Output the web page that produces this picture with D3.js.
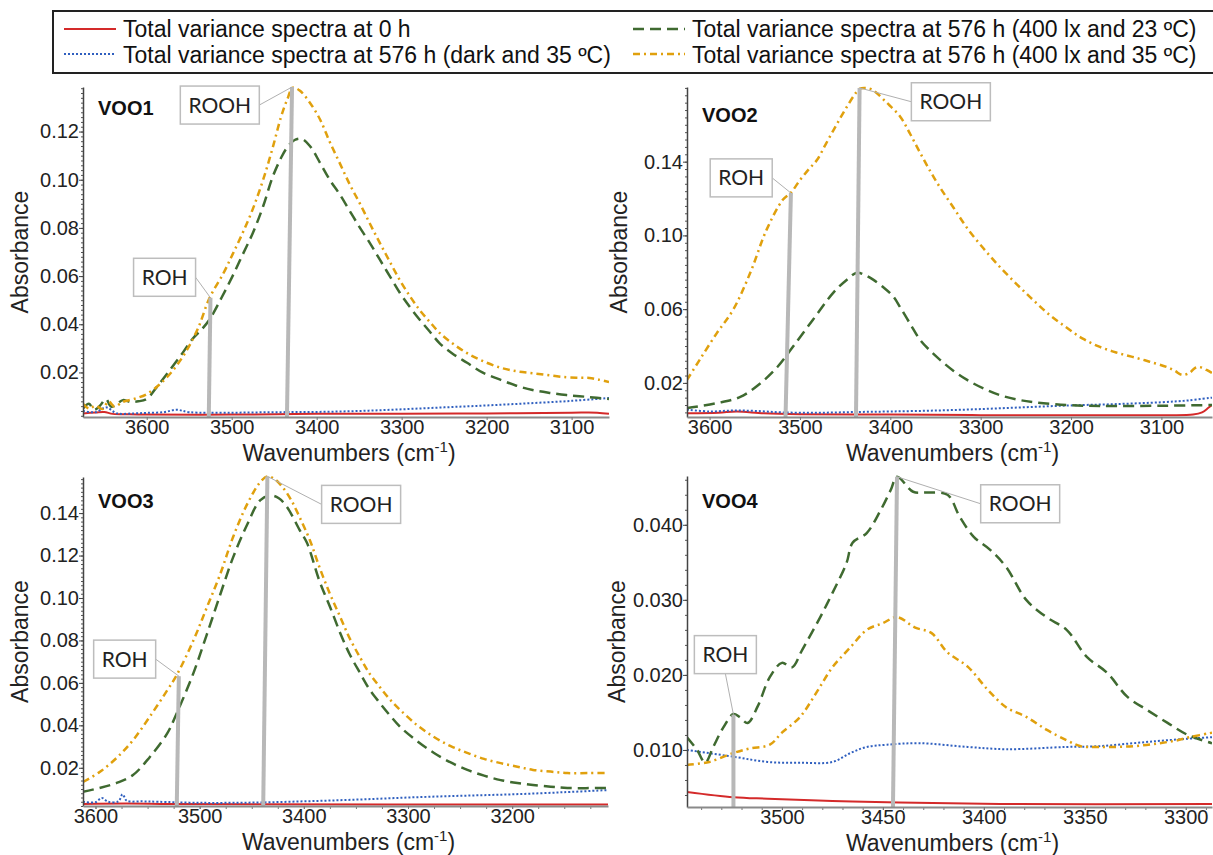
<!DOCTYPE html>
<html>
<head>
<meta charset="utf-8">
<script src="https://cdn.jsdelivr.net/npm/d3@7/dist/d3.min.js"></script>
<style>
  body { margin: 0; background: #fff; }
  text { font-family: "Liberation Sans", Arial, sans-serif; }
</style>
</head>
<body>
<svg id="chart" width="1213" height="855"></svg>
<script>
// legend labels, same order as the series in every panel
var legendLabels = [
    "Total variance spectra at 0 h",
    "Total variance spectra at 576 h (dark and 35 ºC)",
    "Total variance spectra at 576 h (400 lx and 23 ºC)",
    "Total variance spectra at 576 h (400 lx and 35 ºC)"
];

// ---- VOO1 : [wavenumber, absorbance]
var voo1_0h = [[3675,0.0030],[3660,0.0034],[3650,0.0036],[3640,0.0028],[3620,0.0026],[3600,0.0025],[3500,0.0025],[3400,0.0028],[3300,0.0028],[3200,0.0030],[3100,0.0033],[3070,0.0033],[3056,0.0028]];
var voo1_dark = [[3675,0.0040],[3660,0.0035],[3648,0.0055],[3635,0.0030],[3615,0.0030],[3600,0.0032],[3580,0.0035],[3565,0.0045],[3550,0.0035],[3500,0.0033],[3450,0.0035],[3400,0.0036],[3350,0.0040],[3300,0.0047],[3250,0.0055],[3200,0.0063],[3150,0.0072],[3100,0.0082],[3056,0.0094]];
var voo1_23 = [[3675,0.0050],[3668,0.0070],[3662,0.0045],[3655,0.0062],[3648,0.0090],[3642,0.0058],[3635,0.0070],[3628,0.0085],[3620,0.0078],[3610,0.0080],[3600,0.0090],[3588,0.0140],[3575,0.0200],[3560,0.0270],[3546,0.0340],[3535,0.0380],[3526,0.0420],[3512,0.0510],[3499,0.0600],[3487,0.0690],[3475,0.0780],[3463,0.0890],[3452,0.1010],[3442,0.1090],[3435,0.1133],[3426,0.1165],[3418,0.1170],[3408,0.1140],[3396,0.1070],[3384,0.0996],[3373,0.0940],[3361,0.0870],[3349,0.0800],[3337,0.0735],[3326,0.0670],[3314,0.0600],[3302,0.0530],[3290,0.0470],[3279,0.0420],[3267,0.0370],[3255,0.0320],[3240,0.0278],[3223,0.0240],[3205,0.0200],[3184,0.0170],[3165,0.0145],[3146,0.0127],[3126,0.0115],[3106,0.0106],[3080,0.0098],[3056,0.0090]];
var voo1_35 = [[3675,0.0070],[3668,0.0050],[3660,0.0062],[3652,0.0048],[3645,0.0080],[3638,0.0058],[3628,0.0078],[3615,0.0090],[3600,0.0110],[3585,0.0150],[3570,0.0205],[3555,0.0280],[3540,0.0380],[3526,0.0510],[3510,0.0610],[3499,0.0690],[3487,0.0780],[3475,0.0880],[3463,0.1000],[3452,0.1130],[3442,0.1260],[3435,0.1330],[3428,0.1382],[3420,0.1370],[3408,0.1320],[3396,0.1250],[3385,0.1160],[3373,0.1070],[3361,0.0980],[3349,0.0900],[3337,0.0815],[3326,0.0740],[3314,0.0660],[3302,0.0582],[3290,0.0515],[3279,0.0460],[3267,0.0410],[3255,0.0363],[3240,0.0320],[3223,0.0280],[3205,0.0248],[3184,0.0220],[3165,0.0205],[3146,0.0197],[3126,0.0188],[3106,0.0180],[3090,0.0178],[3079,0.0177],[3068,0.0170],[3056,0.0160]];

// ---- VOO2
var voo2_0h = [[3625,0.0035],[3590,0.0038],[3570,0.0045],[3540,0.0035],[3500,0.0030],[3400,0.0028],[3300,0.0025],[3200,0.0025],[3100,0.0025],[3065,0.0028],[3055,0.0040],[3048,0.0065],[3044,0.0080]];
var voo2_dark = [[3625,0.0055],[3600,0.0045],[3575,0.0050],[3550,0.0048],[3520,0.0040],[3480,0.0038],[3440,0.0042],[3400,0.0045],[3350,0.0050],[3300,0.0058],[3250,0.0068],[3200,0.0078],[3150,0.0085],[3100,0.0095],[3070,0.0105],[3044,0.0120]];
var voo2_23 = [[3625,0.0064],[3592,0.0090],[3566,0.0124],[3544,0.0197],[3525,0.0286],[3508,0.0395],[3486,0.0540],[3463,0.0690],[3448,0.0760],[3437,0.0797],[3428,0.0785],[3419,0.0760],[3408,0.0720],[3397,0.0670],[3389,0.0610],[3378,0.0520],[3367,0.0433],[3356,0.0375],[3345,0.0325],[3330,0.0265],[3315,0.0216],[3297,0.0170],[3279,0.0134],[3260,0.0110],[3242,0.0096],[3205,0.0080],[3168,0.0075],[3100,0.0076],[3044,0.0080]];
var voo2_35 = [[3625,0.0216],[3611,0.0325],[3592,0.0470],[3574,0.0596],[3555,0.0797],[3537,0.1030],[3519,0.1193],[3510,0.1232],[3500,0.1300],[3490,0.1360],[3481,0.1410],[3472,0.1490],[3463,0.1570],[3455,0.1640],[3448,0.1698],[3440,0.1760],[3434,0.1795],[3428,0.1800],[3420,0.1790],[3404,0.1720],[3389,0.1644],[3378,0.1550],[3367,0.1448],[3356,0.1350],[3345,0.1260],[3330,0.1150],[3315,0.1040],[3297,0.0930],[3279,0.0830],[3260,0.0735],[3242,0.0650],[3224,0.0570],[3205,0.0500],[3187,0.0440],[3168,0.0395],[3150,0.0365],[3132,0.0341],[3113,0.0315],[3094,0.0286],[3085,0.0265],[3077,0.0243],[3069,0.0254],[3063,0.0280],[3058,0.0286],[3050,0.0270],[3044,0.0254]];

// ---- VOO3
var voo3_0h = [[3612,0.0030],[3570,0.0032],[3530,0.0030],[3450,0.0028],[3300,0.0027],[3108,0.0027]];
var voo3_dark = [[3612,0.0040],[3600,0.0038],[3594,0.0058],[3588,0.0040],[3578,0.0042],[3574,0.0075],[3570,0.0045],[3555,0.0042],[3540,0.0040],[3500,0.0035],[3450,0.0036],[3400,0.0042],[3350,0.0050],[3300,0.0060],[3250,0.0068],[3200,0.0075],[3150,0.0085],[3108,0.0095]];
var voo3_23 = [[3612,0.0087],[3596,0.0105],[3579,0.0130],[3564,0.0166],[3548,0.0250],[3531,0.0363],[3522,0.0457],[3506,0.0646],[3493,0.0830],[3480,0.1020],[3468,0.1190],[3454,0.1350],[3442,0.1460],[3432,0.1483],[3424,0.1470],[3416,0.1427],[3404,0.1320],[3397,0.1260],[3385,0.1080],[3375,0.0960],[3365,0.0834],[3356,0.0735],[3346,0.0646],[3337,0.0570],[3327,0.0505],[3317,0.0445],[3307,0.0390],[3291,0.0325],[3275,0.0270],[3259,0.0225],[3243,0.0190],[3227,0.0163],[3211,0.0142],[3195,0.0128],[3180,0.0119],[3163,0.0111],[3147,0.0105],[3108,0.0105]];
var voo3_35 = [[3612,0.0133],[3596,0.0180],[3579,0.0250],[3564,0.0330],[3548,0.0440],[3531,0.0566],[3522,0.0637],[3506,0.0800],[3493,0.0957],[3480,0.1116],[3468,0.1286],[3454,0.1446],[3442,0.1545],[3435,0.1573],[3428,0.1560],[3420,0.1520],[3412,0.1460],[3404,0.1380],[3394,0.1270],[3385,0.1145],[3375,0.1020],[3365,0.0910],[3356,0.0810],[3346,0.0720],[3337,0.0645],[3327,0.0580],[3317,0.0520],[3307,0.0470],[3291,0.0400],[3275,0.0345],[3259,0.0302],[3243,0.0270],[3227,0.0242],[3211,0.0222],[3195,0.0205],[3180,0.0190],[3163,0.0182],[3147,0.0175],[3127,0.0175],[3108,0.0175]];

// ---- VOO4
var voo4_0h = [[3547,0.0044],[3524,0.0037],[3507,0.0035],[3475,0.0032],[3442,0.0030],[3392,0.0028],[3287,0.0028]];
var voo4_dark = [[3547,0.0100],[3524,0.0091],[3507,0.0084],[3491,0.0083],[3475,0.0084],[3466,0.0096],[3458,0.0104],[3448,0.0107],[3432,0.0109],[3408,0.0104],[3389,0.0101],[3359,0.0104],[3343,0.0105],[3326,0.0109],[3309,0.0113],[3287,0.0117]];
var voo4_23 = [[3547,0.0117],[3542,0.0100],[3538,0.0083],[3534,0.0104],[3529,0.0130],[3524,0.0148],[3521,0.0144],[3517,0.0136],[3512,0.0158],[3506,0.0197],[3500,0.0216],[3495,0.0210],[3490,0.0233],[3481,0.0277],[3475,0.0309],[3468,0.0349],[3465,0.0376],[3458,0.0389],[3451,0.0420],[3446,0.0447],[3443,0.0464],[3435,0.0444],[3428,0.0443],[3418,0.0440],[3412,0.0411],[3405,0.0384],[3397,0.0367],[3389,0.0344],[3379,0.0300],[3369,0.0277],[3359,0.0260],[3349,0.0224],[3339,0.0203],[3329,0.0171],[3319,0.0153],[3309,0.0136],[3299,0.0120],[3287,0.0109]];
var voo4_35 = [[3547,0.0080],[3536,0.0084],[3524,0.0096],[3516,0.0102],[3506,0.0107],[3500,0.0123],[3491,0.0144],[3483,0.0176],[3475,0.0210],[3466,0.0237],[3458,0.0260],[3450,0.0269],[3443,0.0277],[3434,0.0263],[3426,0.0256],[3418,0.0230],[3408,0.0211],[3398,0.0180],[3389,0.0157],[3379,0.0144],[3369,0.0127],[3359,0.0113],[3352,0.0105],[3343,0.0104],[3326,0.0105],[3313,0.0109],[3304,0.0113],[3298,0.0117],[3287,0.0123]];

// marker lines: wavenumber at foot and head, absorbance at head, label anchor (wavenumber, absorbance)
var voo1_marks = [
    {label: "ROOH", w0: 3435, w1: 3429, a: 0.1385, bw: 3514, ba: 0.131, side: "right"},
    {label: "ROH", w0: 3527, w1: 3525, a: 0.051, bw: 3579, ba: 0.0595, side: "right"}
];
var voo2_marks = [
    {label: "ROOH", w0: 3438, w1: 3434, a: 0.1800, bw: 3333, ba: 0.1725, side: "left"},
    {label: "ROH", w0: 3516, w1: 3510, a: 0.123, bw: 3565, ba: 0.1312, side: "right"}
];
var voo3_marks = [
    {label: "ROOH", w0: 3439, w1: 3435, a: 0.1573, bw: 3345, ba: 0.1441, side: "left"},
    {label: "ROH", w0: 3522, w1: 3520, a: 0.0632, bw: 3572, ba: 0.0712, side: "right"}
];
var voo4_marks = [
    {label: "ROOH", w0: 3445, w1: 3443, a: 0.0464, bw: 3382, ba: 0.0428, side: "left"},
    {label: "ROH", w0: 3524, w1: 3524, a: 0.0147, bw: 3528, ba: 0.0227, side: "bottom"}
];

// tick values
var xTicks12 = [3600, 3500, 3400, 3300, 3200, 3100];
var xTicks3 = [3600, 3500, 3400, 3300, 3200];
var xTicks4 = [3500, 3450, 3400, 3350, 3300];
var yTicks1 = [0.02, 0.04, 0.06, 0.08, 0.10, 0.12];
var yTicks2 = [0.02, 0.06, 0.10, 0.14];
var yTicks3 = [0.02, 0.04, 0.06, 0.08, 0.10, 0.12, 0.14];
var yTicks4 = [0.010, 0.020, 0.030, 0.040];

var colors = ["#d42a2a", "#2f5fbf", "#3f6a30", "#e0a00d"];
var dashes = [null, "2,2", "11,6", "7,4,2,4"];
var widths = [2, 2, 2.5, 2.5];

var panels = [
    {name: "VOO1", series: [voo1_0h, voo1_dark, voo1_23, voo1_35], marks: voo1_marks,
     xd: [3675, 3056], yd: [0.0015, 0.1385], l: 83, r: 609, t: 87, b: 417,
     xt: xTicks12, xm: null, yt: yTicks1, ym: 0.002, fmt: ".2f", nameY: 115, ttl: 55},
    {name: "VOO2", series: [voo2_0h, voo2_dark, voo2_23, voo2_35], marks: voo2_marks,
     xd: [3625, 3044], yd: [0.0015, 0.1805], l: 687, r: 1212, t: 87, b: 417,
     xt: xTicks12, xm: null, yt: yTicks2, ym: 0.004, fmt: ".2f", nameY: 122, ttl: 60},
    {name: "VOO3", series: [voo3_0h, voo3_dark, voo3_23, voo3_35], marks: voo3_marks,
     xd: [3612, 3108], yd: [0.002, 0.157], l: 83, r: 608, t: 477, b: 806,
     xt: xTicks3, xm: 25, yt: yTicks3, ym: 0.002, fmt: ".2f", nameY: 508, ttl: 55},
    {name: "VOO4", series: [voo4_0h, voo4_dark, voo4_23, voo4_35], marks: voo4_marks,
     xd: [3547, 3287], yd: [0.0024, 0.0465], l: 687, r: 1212, t: 476, b: 807,
     xt: xTicks4, xm: 10, yt: yTicks4, ym: 0.002, fmt: ".3f", nameY: 508, ttl: 62}
];

var svg = d3.select("#chart");

// ---- legend
var legend = svg.append("g");
legend.append("rect")
    .attr("x", 53).attr("y", 11).attr("width", 1180).attr("height", 62)
    .attr("fill", "none").attr("stroke", "#222").attr("stroke-width", 2);
legendLabels.forEach(function (lab, i) {
    var col = i < 2 ? 0 : 1;
    var row = (i === 0 || i === 2) ? 0 : 1;
    var x0 = col === 0 ? 64 : 633;
    var ly = row === 0 ? 29 : 54;
    legend.append("line")
        .attr("x1", x0).attr("x2", x0 + 52).attr("y1", ly).attr("y2", ly)
        .attr("stroke", colors[i]).attr("stroke-width", widths[i])
        .attr("stroke-dasharray", dashes[i]);
    legend.append("text")
        .attr("x", x0 + 59).attr("y", row === 0 ? 37 : 63)
        .attr("font-size", "23px").attr("fill", "#111")
        .text(lab);
});

// ---- panels
panels.forEach(function (p, pi) {
    var x = d3.scaleLinear().domain(p.xd).range([p.l, p.r]);
    var y = d3.scaleLinear().domain(p.yd).range([p.b, p.t]);
    var g = svg.append("g");

    g.append("clipPath").attr("id", "clip" + pi)
        .append("rect").attr("x", p.l).attr("y", p.t - 2)
        .attr("width", p.r - p.l).attr("height", p.b - p.t + 2);

    var line = d3.line()
        .x(function (d) { return x(d[0]); })
        .y(function (d) { return y(d[1]); })
        .curve(d3.curveCatmullRom.alpha(0.5));

    var plot = g.append("g").attr("clip-path", "url(#clip" + pi + ")");
    plot.selectAll("path.series")
        .data(p.series)
        .enter().append("path")
        .attr("class", "series")
        .attr("fill", "none")
        .attr("stroke", function (d, i) { return colors[i]; })
        .attr("stroke-width", function (d, i) { return widths[i]; })
        .attr("stroke-dasharray", function (d, i) { return dashes[i]; })
        .attr("d", line);

    // marker lines and label boxes
    p.marks.forEach(function (m) {
        g.append("line")
            .attr("x1", x(m.w0)).attr("y1", y(p.yd[0]) + 1)
            .attr("x2", x(m.w1)).attr("y2", y(m.a))
            .attr("stroke", "#b8b8b8").attr("stroke-width", 4);
        var bw = m.label === "ROOH" ? 79 : 62, bh = 38;
        var cx = x(m.bw), cy = y(m.ba);
        var sx, sy;
        if (m.side === "right") { sx = cx + bw / 2; sy = cy; }
        else if (m.side === "left") { sx = cx - bw / 2; sy = cy; }
        else { sx = cx; sy = cy + bh / 2; }
        g.append("line")
            .attr("x1", sx).attr("y1", sy).attr("x2", x(m.w1)).attr("y2", y(m.a))
            .attr("stroke", "#b0b0b0").attr("stroke-width", 1);
        g.append("rect")
            .attr("x", cx - bw / 2).attr("y", cy - bh / 2)
            .attr("width", bw).attr("height", bh)
            .attr("fill", "#fff").attr("stroke", "#bdbdbd").attr("stroke-width", 1.5);
        g.append("text")
            .attr("x", cx).attr("y", cy + 7.5)
            .attr("text-anchor", "middle")
            .style("font-family", "Lato, 'Open Sans', sans-serif")
            .attr("font-size", "21px").attr("fill", "#222")
            .text(m.label);
    });

    // y axis
    var yMinor = d3.range(Math.ceil(p.yd[0] / p.ym) * p.ym, p.yd[1], p.ym);
    g.append("g")
        .attr("transform", "translate(" + p.l + ",0)")
        .call(d3.axisLeft(y).tickValues(yMinor).tickSize(2).tickFormat(""))
        .call(function (s) { s.select(".domain").remove(); })
        .selectAll("line").attr("stroke", "#555");
    var yAx = g.append("g")
        .attr("transform", "translate(" + p.l + ",0)")
        .call(d3.axisLeft(y).tickValues(p.yt).tickSize(4).tickSizeOuter(0)
            .tickPadding(0).tickFormat(d3.format(p.fmt)));
    yAx.select(".domain").attr("stroke", "#444").attr("stroke-width", 1.5);
    yAx.selectAll("line").attr("stroke", "#444");
    yAx.selectAll("text").attr("font-size", "20px").attr("fill", "#222")
        .style("font-family", "'Liberation Sans', Arial, sans-serif");

    // x axis
    if (p.xm) {
        var xMinor = d3.range(Math.ceil(p.xd[1] / p.xm) * p.xm, p.xd[0], p.xm);
        g.append("g")
            .attr("transform", "translate(0," + p.b + ")")
            .call(d3.axisBottom(x).tickValues(xMinor).tickSize(3).tickFormat(""))
            .call(function (s) { s.select(".domain").remove(); })
            .selectAll("line").attr("stroke", "#777");
    }
    var xAx = g.append("g")
        .attr("transform", "translate(0," + p.b + ")")
        .call(d3.axisBottom(x).tickValues(p.xt).tickSize(3).tickSizeOuter(0)
            .tickPadding(0).tickFormat(d3.format("d")));
    xAx.select(".domain").attr("stroke", "#8a8a8a").attr("stroke-width", 2);
    xAx.selectAll("line").attr("stroke", "#777");
    xAx.selectAll("text").attr("font-size", "20px").attr("fill", "#222")
        .style("font-family", "'Liberation Sans', Arial, sans-serif");

    // titles
    g.append("text")
        .attr("x", p.l + 15).attr("y", p.nameY)
        .attr("font-size", "20px").attr("font-weight", "bold").attr("fill", "#111")
        .text(p.name);

    var yt = (p.t + p.b) / 2;
    g.append("text")
        .attr("transform", "translate(" + (p.l - p.ttl) + "," + yt + ") rotate(-90)")
        .attr("text-anchor", "middle")
        .attr("font-size", "23px").attr("fill", "#222")
        .text("Absorbance");

    var xt = g.append("text")
        .attr("x", (p.l + p.r) / 2 + 3).attr("y", p.b + 44)
        .attr("text-anchor", "middle")
        .attr("font-size", "23px").attr("fill", "#222");
    xt.append("tspan").text("Wavenumbers (cm");
    xt.append("tspan").attr("dy", -9).attr("font-size", "15px").text("-1");
    xt.append("tspan").attr("dy", 9).text(")");
});
</script>
</body>
</html>
